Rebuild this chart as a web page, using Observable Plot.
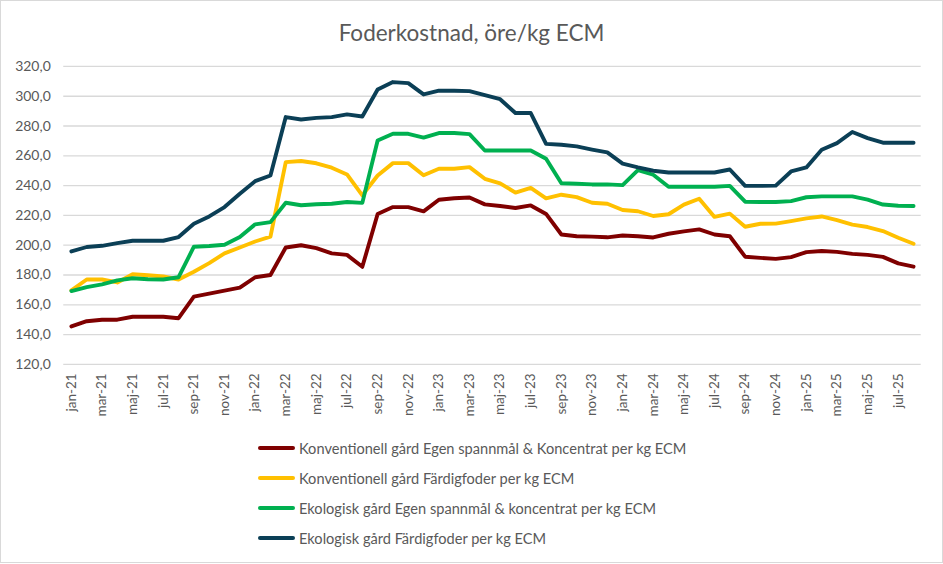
<!DOCTYPE html>
<html>
<head>
<meta charset="utf-8">
<script src="https://cdn.jsdelivr.net/npm/d3@7"></script>
<script src="https://cdn.jsdelivr.net/npm/@observablehq/plot@0.6"></script>
<style>
  html, body { margin: 0; padding: 0; background: #fff; }
  #chart { position: relative; width: 941px; height: 561px; border: 1px solid #d9d9d9; overflow: hidden; font-family: Lato, "Open Sans", sans-serif; color: #595959; background: #fff; }
  #title { position: absolute; top: 18px; left: 0; width: 941px; text-align: center; font-size: 22.5px; line-height: 28px; }
  #plot { position: absolute; top: -1px; left: -1px; }
  .leg { position: absolute; left: 257px; height: 20px; display: flex; align-items: center; font-size: 14.6px; white-space: nowrap; }
  .leg .sw { width: 37px; height: 4px; border-radius: 2px; margin-right: 4px; }
</style>
</head>
<body>
<div id="chart">
  <div id="plot"></div>
  <div id="title">Foderkostnad, öre/kg ECM</div>
  <div id="legend"></div>
</div>
<script>
const monthNames = ["jan","feb","mar","apr","maj","jun","jul","aug","sep","okt","nov","dec"];
const years = ["21","22","23","24","25"];
const months = years.flatMap(y => monthNames.map(m => `${m}-${y}`)).slice(0, 56);
const tickLabels = months.filter((d, i) => i % 2 === 0);
const yTicks = [120,140,160,180,200,220,240,260,280,300,320];

const seriesNames = [
  "Konventionell gård Egen spannmål & Koncentrat per kg ECM",
  "Konventionell gård Färdigfoder per kg ECM",
  "Ekologisk gård Egen spannmål & koncentrat per kg ECM",
  "Ekologisk gård Färdigfoder per kg ECM"
];
const seriesColors = ["#7f0000", "#ffc000", "#00b050", "#0b3f56"];

const konvEgen = [145.5,149,150,150,152,152,152,151,165.5,167.5,169.5,171.5,178.5,180,198.5,200,198,194.5,193.5,185.5,
  221,225.6,225.6,222.7,230.5,231.5,232,227.4,226.3,225,226.7,221,207.2,206,205.8,205.3,206.5,206,205.2,207.7,
  209.3,210.6,207.2,206,192.3,191.5,190.8,192,195.4,196.1,195.5,194.2,193.5,192.2,187.8,185.6];
const konvFardig = [169.7,177,177,175,180.5,179.8,179,177,182.2,188,194.5,198.5,202.5,205.7,255.8,256.5,255,252,247.5,233.5,
  246.8,255.1,255.1,247,251.3,251.3,252.4,244.6,241.5,235.3,238.5,231.5,233.9,232.3,228.5,227.8,223.6,222.8,219.6,220.8,
  227.2,231.2,219,221.2,212.4,214.4,214.5,216.2,218,219.3,216.8,213.8,212.2,209.5,205,201];
const ekoEgen = [169.2,171.9,173.7,176.4,177.8,177.2,177,178.5,199,199.5,200.3,205.5,214,215.5,228.5,226.8,227.5,227.8,229,228.4,
  270.3,274.8,274.8,272.2,275.3,275.3,274.6,263.6,263.6,263.6,263.6,258,241.6,241.3,240.8,240.8,240.3,250.4,247.3,239.2,
  239.2,239.2,239.2,239.8,229.2,229,229,229.6,232.2,232.8,232.8,232.8,230.6,227.3,226.5,226.3];
const ekoFardig = [195.8,198.8,199.6,201.4,203,203,203,205.5,214.4,219.3,225.6,234.5,243,246.8,286,284.4,285.5,286,287.8,286.4,
  304.5,309.5,308.8,301.2,303.7,303.7,303.4,300.7,298,288.7,288.7,268,267.4,266.3,264.2,262.3,254.8,252.2,250,248.8,
  248.8,248.8,248.8,250.8,239.8,239.8,240,249.5,252.2,264.1,268.5,276,271.9,268.8,268.8,268.8];

const allSeries = [konvEgen, konvFardig, ekoEgen, ekoFardig];
const data = allSeries.flatMap((vals, s) => vals.map((v, i) => ({series: seriesNames[s], month: months[i], value: v})));

const fmt = d => d.toFixed(1).replace(".", ",");

const plot = Plot.plot({
  width: 943,
  height: 420,
  marginTop: 66,
  marginBottom: 55.7,
  marginLeft: 63.3,
  marginRight: 21.3,
  style: {fontFamily: "Lato, 'Open Sans', sans-serif", color: "#595959", background: "transparent", overflow: "visible"},
  x: {type: "point", domain: months, padding: 0.5, round: false},
  y: {domain: [120, 320]},
  color: {domain: seriesNames, range: seriesColors},
  marks: [
    Plot.gridY(yTicks, {stroke: "#d9d9d9", strokeOpacity: 1, strokeWidth: 1.3}),
    Plot.axisY(yTicks, {tickFormat: fmt, tickSize: 0, tickPadding: 13, fontSize: 14, label: null}),
    Plot.axisX(tickLabels, {tickRotate: -90, tickSize: 0, tickPadding: 9, fontSize: 13.5, label: null}),
    Plot.line(data, {x: "month", y: "value", z: "series", stroke: "series", strokeWidth: 3.9, strokeLinejoin: "round", strokeLinecap: "round"})
  ]
});
document.getElementById("plot").appendChild(plot);

const legend = document.getElementById("legend");
const rowTops = [437, 467, 497, 527];
seriesNames.forEach((name, i) => {
  const row = document.createElement("div");
  row.className = "leg";
  row.style.top = rowTops[i] + "px";
  const sw = document.createElement("div");
  sw.className = "sw";
  sw.style.background = seriesColors[i];
  const tx = document.createElement("span");
  tx.textContent = name;
  row.appendChild(sw);
  row.appendChild(tx);
  legend.appendChild(row);
});
</script>
</body>
</html>
